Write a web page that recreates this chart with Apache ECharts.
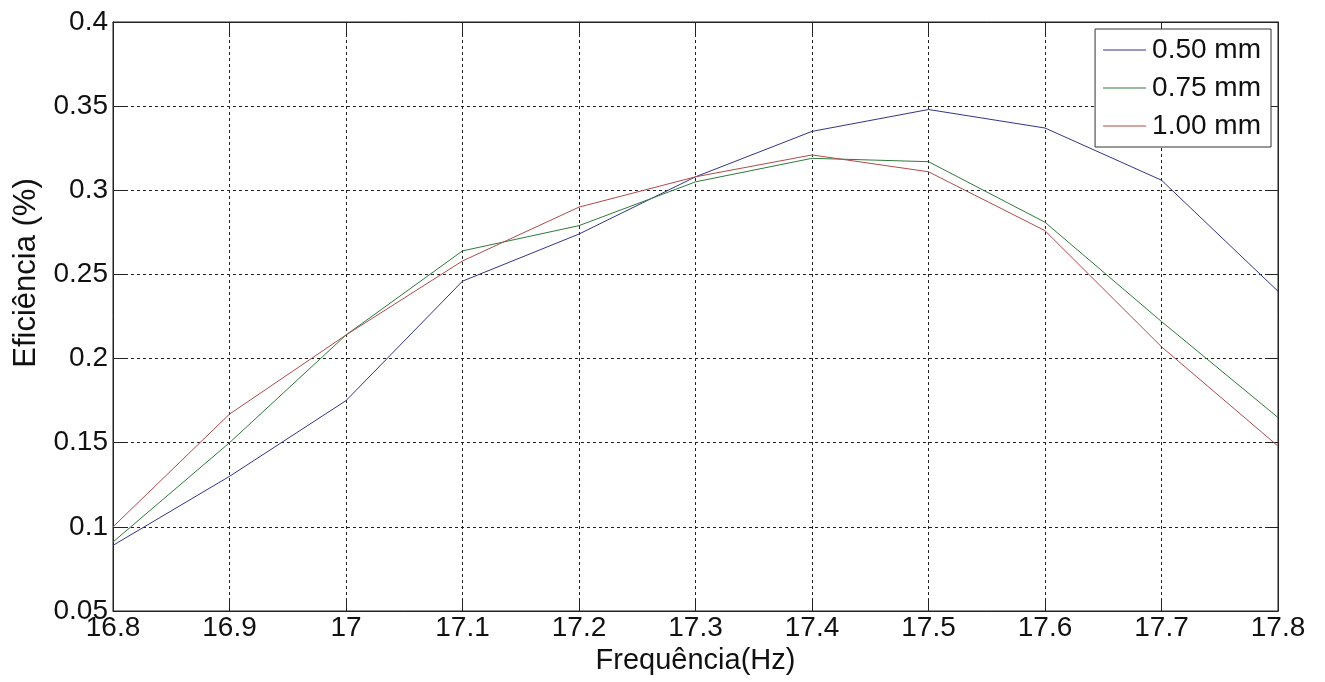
<!DOCTYPE html>
<html>
<head>
<meta charset="utf-8">
<script src="https://cdn.jsdelivr.net/npm/echarts@6/dist/echarts.min.js"></script>
<style>
html,body{margin:0;padding:0;background:#fff;}
#c{width:1325px;height:682px;}
</style>
</head>
<body>
<div id="c"></div>
<script>
const freq = [16.8, 16.9, 17.0, 17.1, 17.2, 17.3, 17.4, 17.5, 17.6, 17.7, 17.8];
const eff050 = [0.089, 0.130, 0.175, 0.246, 0.274, 0.308, 0.335, 0.348, 0.337, 0.306, 0.240];
const eff075 = [0.091, 0.150, 0.214, 0.264, 0.279, 0.305, 0.319, 0.317, 0.281, 0.222, 0.165];
const eff100 = [0.100, 0.167, 0.214, 0.258, 0.290, 0.308, 0.321, 0.311, 0.276, 0.207, 0.148];
const seriesNames = ['0.50 mm', '0.75 mm', '1.00 mm'];
const xTitle = 'Frequência(Hz)';
const yTitle = 'Eficiência (%)';

const FONT = 'Liberation Sans, Arial, sans-serif';
const colors = ['#34348a', '#2f7a3a', '#b04a4a'];

function pairs(ys){ return freq.map((x,i)=>[x, ys[i]]); }

const chart = echarts.init(document.getElementById('c'), null, {renderer:'canvas'});
const gridLine = {show:true, lineStyle:{color:'#222', type:[3,3], width:1}};
const tickIn = {show:true, inside:true, length:12, lineStyle:{color:'#222', width:1}};

chart.setOption({
  animation:false,
  backgroundColor:'#fff',
  grid:{left:113, right:47, top:22, bottom:71, show:true, borderColor:'#222', borderWidth:1, containLabel:false},
  xAxis:[{
    type:'value', min:16.8, max:17.8, interval:0.1,
    axisLine:{show:true, lineStyle:{color:'#222'}},
    axisTick:tickIn,
    splitLine:gridLine,
    axisLabel:{color:'#111', fontSize:28, fontFamily:FONT, margin:3,
      formatter:v=>String(Math.round(v*10)/10)},
    name:xTitle, nameLocation:'middle', nameGap:26,
    nameTextStyle:{color:'#111', fontSize:29, fontFamily:FONT}
  },{
    type:'value', min:16.8, max:17.8, interval:0.1, position:'top',
    axisLine:{show:true, lineStyle:{color:'#222'}},
    axisTick:tickIn, axisLabel:{show:false}, splitLine:{show:false}
  }],
  yAxis:[{
    type:'value', min:0.05, max:0.4, interval:0.05,
    axisLine:{show:true, lineStyle:{color:'#222'}},
    axisTick:tickIn,
    splitLine:gridLine,
    axisLabel:{color:'#111', fontSize:28, fontFamily:FONT, margin:5,
      formatter:v=>String(Math.round(v*100)/100)}
  },{
    type:'value', min:0.05, max:0.4, interval:0.05, position:'right',
    axisLine:{show:true, lineStyle:{color:'#222'}},
    axisTick:tickIn, axisLabel:{show:false}, splitLine:{show:false}
  }],
  graphic:[{
    type:'text', x:26, y:273, rotation:Math.PI/2,
    style:{text:yTitle, fill:'#111', fontSize:31, fontFamily:FONT, align:'center', verticalAlign:'middle'}
  }],
  legend:{
    orient:'vertical', right:54, top:29,
    backgroundColor:'#fff', borderColor:'#333', borderWidth:1,
    padding:[7,10,7,8], itemGap:10, itemWidth:43, itemHeight:14,
    textStyle:{color:'#111', fontSize:28, fontFamily:FONT, padding:[0,0,0,1]},
    data:seriesNames.map((n,i)=>({name:n, icon:'path://M0,0 L43,0 L43,1 L0,1 Z', itemStyle:{color:colors[i]}}))
  },
  series:[eff050, eff075, eff100].map((d,i)=>({
    name:seriesNames[i], type:'line', data:pairs(d), symbol:'none',
    lineStyle:{color:colors[i], width:1}, itemStyle:{color:colors[i]}
  }))
});
</script>
</body>
</html>
